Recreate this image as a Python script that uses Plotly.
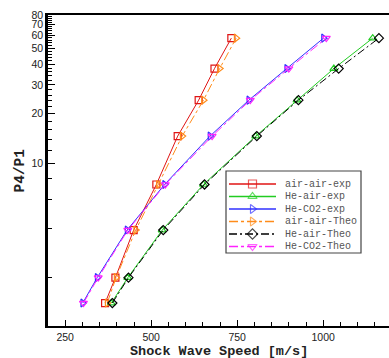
import plotly.graph_objects as go

# ---------------- data ----------------
pressure_ratio = [1.4, 2.0, 3.9, 7.4, 14.6, 24.2, 37.7, 57.8]
air_air_exp = [366, 396, 449, 515, 577, 638, 684, 733]
he_air_exp = [384, 432, 532, 652, 804, 924, 1031, 1144]
he_co2_exp = [301, 343, 430, 539, 671, 784, 894, 1001]
air_air_theo = [372, 398, 455, 521, 590, 652, 699, 747]
he_air_theo = [387, 434, 535, 655, 807, 928, 1045, 1162]
he_co2_theo = [303, 346, 432, 541, 677, 788, 900, 1009]

series_names = ["air-air-exp", "He-air-exp", "He-CO2-exp",
                "air-air-Theo", "He-air-Theo", "He-CO2-Theo"]
series_values = [air_air_exp, he_air_exp, he_co2_exp,
                 air_air_theo, he_air_theo, he_co2_theo]

x_tick_vals = [250, 500, 750, 1000]
x_minor_vals = list(range(200, 1200, 50))
y_tick_vals = [10, 20, 30, 40, 50, 60, 70, 80]
y_minor_vals = [2, 4, 6, 8, 12, 14, 16, 18] + list(range(22, 80, 2))

x_title = "Shock Wave Speed [m/s]"
y_title = "P4/P1"

# ---------------- styles ----------------
colors = ["#e01515", "#22cc22", "#3030ff", "#ff8c1a", "#000000", "#ff22ff"]
symbols = ["square-open", "triangle-up-open", "triangle-right-open",
           "triangle-right-open", "diamond-open", "triangle-down-open"]
dashes = ["solid", "solid", "solid", "dashdot", "8px,3px,2px,3px", "dashdot"]

W, H = 389, 358
ML, MR, MT, MB = 48, 0, 15, 32
PW, PH = W - ML - MR, H - MT - MB

fig = go.Figure()
for name, vals, c, s, d in zip(series_names, series_values, colors, symbols, dashes):
    fig.add_trace(go.Scatter(
        x=vals, y=pressure_ratio, mode="lines+markers", name=name,
        line=dict(color=c, width=1, dash=d),
        marker=dict(symbol=s, size=7, color=c, line=dict(color=c, width=1.2)),
        showlegend=False,
    ))

# ---------------- manual legend (pixel coords inside plot area) ----------------
leg_box = dict(x0=178, x1=313, y0=156, y1=238)
leg_row0, leg_dy = 169, 12.5
leg_line_x0, leg_line_x1, leg_text_x = 181, 228, 235
for i, (name, c, s, d) in enumerate(zip(series_names, colors, symbols, dashes)):
    yy = leg_row0 + i * leg_dy
    fig.add_trace(go.Scatter(
        x=[leg_line_x0, (leg_line_x0 + leg_line_x1) / 2, leg_line_x1], y=[yy, yy, yy],
        xaxis="x2", yaxis="y2", mode="lines+markers",
        line=dict(color=c, width=1.5, dash=d),
        marker=dict(symbol=s, size=[0, 8, 0], color=c, line=dict(color=c, width=1.2)),
        showlegend=False, hoverinfo="skip",
    ))
    fig.add_annotation(x=leg_text_x, y=yy, xref="x2", yref="y2", text=name,
                       showarrow=False, xanchor="left", yanchor="middle",
                       font=dict(family="Liberation Mono", size=10, color="#555555"))
fig.add_shape(type="rect", xref="x2", yref="y2", line=dict(color="#444444", width=1.2),
              fillcolor="rgba(0,0,0,0)", **leg_box)

tick_font = dict(family="Liberation Sans", size=10.5, color="#222222")
title_font = dict(family="Liberation Mono", size=13.5, color="#222222", weight="bold")

# axis titles as annotations (pixel-accurate placement)
fig.add_annotation(x=0.5, y=-(351 - (MT + PH)) / PH, xref="paper", yref="paper",
                   text=x_title, showarrow=False, xanchor="center", yanchor="middle",
                   borderpad=0, font=title_font)
fig.add_annotation(x=-(ML - 19) / PW, y=0.5, xref="paper", yref="paper",
                   text=y_title, showarrow=False, xanchor="center", yanchor="middle",
                   textangle=-90, font=dict(title_font, size=14.5))

fig.update_layout(
    width=W, height=H,
    margin=dict(l=ML, r=MR, t=MT, b=MB),
    paper_bgcolor="white", plot_bgcolor="white",
    xaxis=dict(
        range=[200, 200 + PW * 2.907], showgrid=False, zeroline=False,
        showline=True, linecolor="black", linewidth=2, mirror=True,
        ticks="inside", ticklen=6, tickwidth=1.3, tickcolor="black",
        tickvals=x_tick_vals, tickfont=tick_font,
        minor=dict(ticks="inside", ticklen=4, tickwidth=1, tickcolor="black",
                   tickvals=x_minor_vals, showgrid=False),
        automargin=False,
    ),
    yaxis=dict(
        type="log", range=[0.006, 1.90309], showgrid=False, zeroline=False,
        showline=True, linecolor="black", linewidth=2.5, mirror=False,
        ticks="inside", ticklen=7, tickwidth=1.3, tickcolor="black",
        tickvals=y_tick_vals, ticktext=[str(v) for v in y_tick_vals], tickfont=tick_font,
        minor=dict(ticks="inside", ticklen=4, tickwidth=1, tickcolor="black",
                   tickvals=y_minor_vals, showgrid=False),
        automargin=False,
    ),
    xaxis2=dict(overlaying="x", range=[0, PW], visible=False, fixedrange=True),
    yaxis2=dict(overlaying="y", range=[PH, 0], visible=False, fixedrange=True),
)

fig.write_html("out.html")
